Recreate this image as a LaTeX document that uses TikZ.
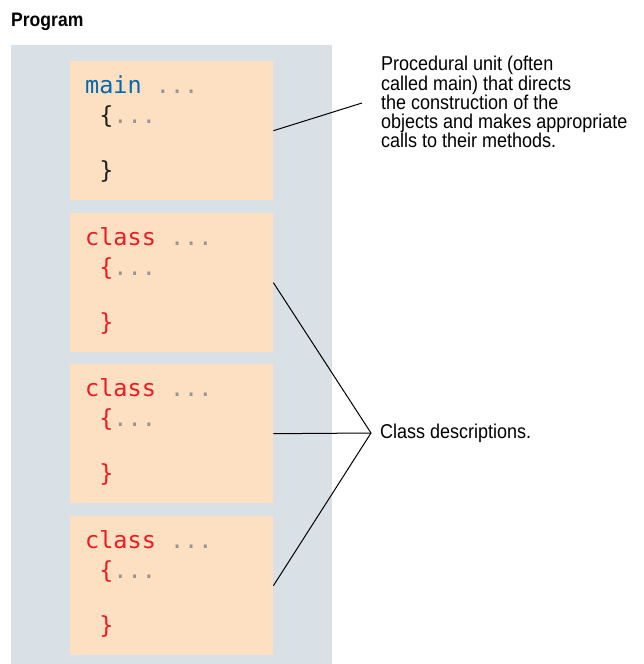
\documentclass[tikz,border=0pt]{standalone}
\usepackage{fontspec}
\setmainfont{Liberation Sans}[FakeStretch=0.9]
\newfontfamily\codefont{DejaVu Sans Mono}
\usetikzlibrary{positioning}
\definecolor{panelgray}{RGB}{217,224,230}
\definecolor{boxpeach}{RGB}{253,224,193}
\definecolor{mainblue}{RGB}{0,105,180}
\definecolor{classred}{RGB}{237,28,36}
\definecolor{dotgray}{RGB}{150,150,150}
\definecolor{bracedark}{RGB}{35,31,32}

\begin{document}
\begin{tikzpicture}[
  x=1pt,y=-1pt,
  panelbox/.style={fill=panelgray,minimum width=321pt,minimum height=619pt,inner sep=0pt,anchor=north west},
  codebox/.style={fill=boxpeach,minimum width=203pt,minimum height=139pt,inner sep=0pt,anchor=north west},
  code/.style={inner sep=0pt,align=left,font=\codefont\fontsize{23.5}{27.5}\selectfont},
  note/.style={inner sep=0pt,align=left,font=\fontsize{20}{18.3}\selectfont},
  callout/.style={line width=1pt}
]
  \useasboundingbox (0,0) rectangle (644,664);
  \node[anchor=base west,inner sep=0pt,font=\bfseries\fontsize{19.5}{20}\selectfont] (title) at (11,26) {Program};
  \node[panelbox] (panel) at (11,45) {};

  \node[codebox] (mainbox) at (70,61) {};
  \node[codebox] (classA) at (70,213) {};
  \node[codebox] (classB) at (70,364) {};
  \node[codebox] (classC) at (70,516) {};

  \node[code,below right=14.5pt and 15pt of mainbox.north west] (maincode) {\textcolor{mainblue}{main} \textcolor{dotgray}{...}\\[2.5pt]\hspace*{0.602em}\textcolor{bracedark}{\{}\textcolor{dotgray}{...}\\[27.5pt]\hspace*{0.602em}\textcolor{bracedark}{\}}};
  \node[code,below right=14.5pt and 15pt of classA.north west] (codeA) {\textcolor{classred}{class} \textcolor{dotgray}{...}\\[2.5pt]\hspace*{0.602em}\textcolor{classred}{\{}\textcolor{dotgray}{...}\\[27.5pt]\hspace*{0.602em}\textcolor{classred}{\}}};
  \node[code,below right=14.5pt and 15pt of classB.north west] (codeB) {\textcolor{classred}{class} \textcolor{dotgray}{...}\\[2.5pt]\hspace*{0.602em}\textcolor{classred}{\{}\textcolor{dotgray}{...}\\[27.5pt]\hspace*{0.602em}\textcolor{classred}{\}}};
  \node[code,below right=14.5pt and 15pt of classC.north west] (codeC) {\textcolor{classred}{class} \textcolor{dotgray}{...}\\[2.5pt]\hspace*{0.602em}\textcolor{classred}{\{}\textcolor{dotgray}{...}\\[27.5pt]\hspace*{0.602em}\textcolor{classred}{\}}};

  \node[note,anchor=north west] (mainnote) at (381,56) {Procedural unit (often\\called main) that directs\\the construction of the\\objects and makes appropriate\\calls to their methods.};
  \coordinate (mainend) at (362,103);
  \node[note,anchor=west,inner xsep=9pt] (classnote) at (371,433) {Class descriptions.};

  \draw[callout] (mainbox.east) -- (mainend);
  \draw[callout] (classA.east) -- (classnote.west);
  \draw[callout] (classB.east) -- (classnote.west);
  \draw[callout] (classC.east) -- (classnote.west);
\end{tikzpicture}
\end{document}
